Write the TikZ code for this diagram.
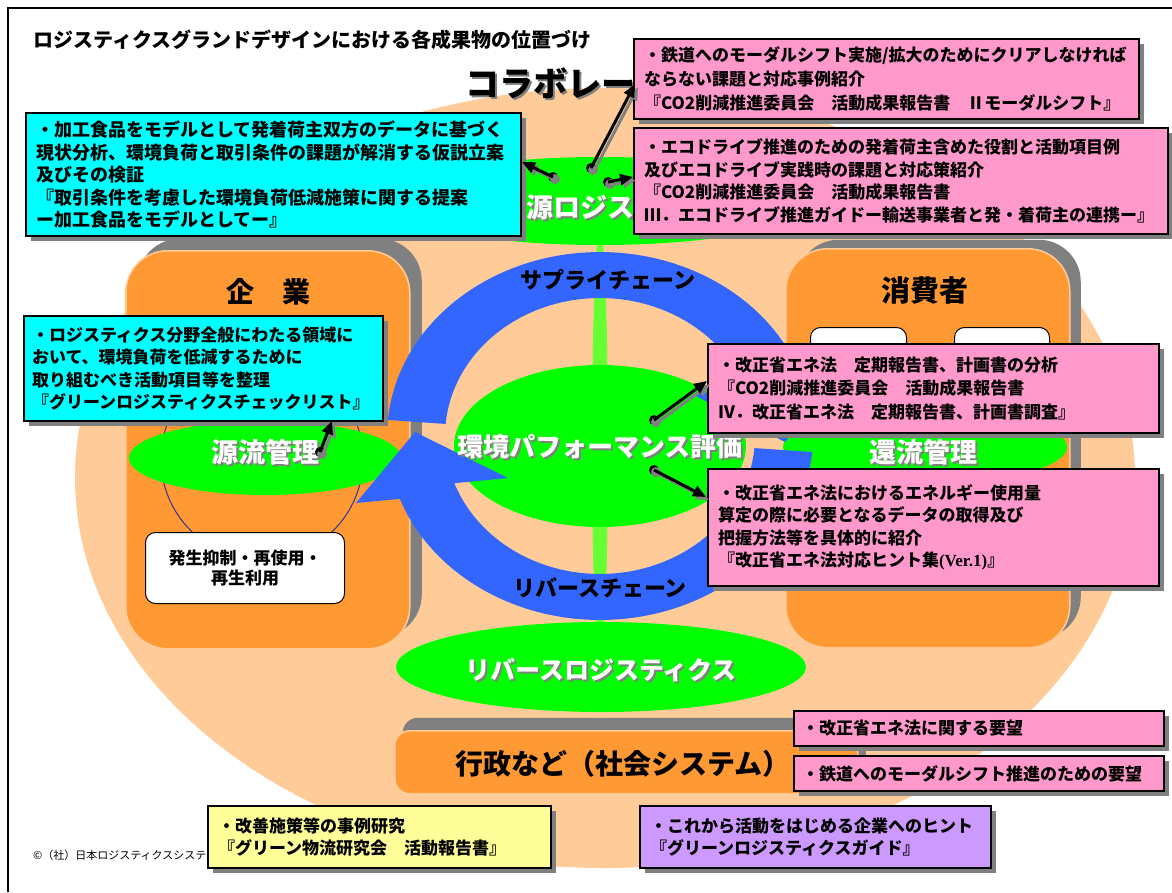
\documentclass[tikz,border=0pt]{standalone}
\usepackage{fontspec}
\setmainfont{Noto Sans CJK JP}
\newfontfamily\serifen{Liberation Serif}
\usetikzlibrary{shadows,arrows.meta,shapes.geometric}
\definecolor{peachc}{HTML}{FFCC99}
\definecolor{orangec}{HTML}{FF9933}
\definecolor{greenc}{HTML}{00FF00}
\definecolor{stemc}{HTML}{66FF33}
\definecolor{bluec}{HTML}{3366FF}
\definecolor{cyanc}{HTML}{00FFFF}
\definecolor{pinkc}{HTML}{FF99CC}
\definecolor{yellowc}{HTML}{FFFF99}
\definecolor{purplec}{HTML}{CC99FF}
\definecolor{shgray}{HTML}{808080}
\definecolor{navyc}{HTML}{333399}
\newcommand\shadowlabel[6]{%
  \node[text=shgray, font=\fontsize{#4}{#4}\selectfont\bfseries] (#1s) at (#2+2,#3+2) {#6};
  \node[text=#5, font=\fontsize{#4}{#4}\selectfont\bfseries] (#1) at (#2,#3) {#6};}
\tikzset{
  calloutbox/.style={draw=black, line width=2pt, anchor=north west, align=left,
    inner xsep=10pt, inner ysep=0pt, font=\fontsize{17}{22.5}\selectfont\bfseries,
    drop shadow={shadow xshift=5pt, shadow yshift=-5pt, opacity=1, fill=shgray}},
  cyanbox/.style={calloutbox, fill=cyanc},
  pinkbox/.style={calloutbox, fill=pinkc},
  yellowbox/.style={calloutbox, fill=yellowc},
  purplebox/.style={calloutbox, fill=purplec},
  orangebox/.style={fill=orangec, draw=peachc, line width=1.5pt, anchor=north west, inner sep=0pt},
  greenell/.style={ellipse, fill=greenc, inner sep=0pt},
  whitebox/.style={fill=white, draw=black, line width=1pt, rounded corners=10pt, anchor=north west, inner sep=0pt},
  dotnode/.style={circle, fill=black, minimum size=10pt, inner sep=0pt},
  callout/.style={line width=3pt, black, -{Triangle[length=13pt,width=11pt]}},
  calloutshadow/.style={line width=3pt, shgray, -{Triangle[length=13pt,width=11pt]}},
  blacklabel/.style={text=black, font=\fontsize{#1}{#1}\selectfont\bfseries},
}
\begin{document}
\begin{tikzpicture}[x=1pt,y=-1pt, every node/.style={inner sep=0pt}]
\useasboundingbox (0,0) rectangle (1172,892);
\fill[white] (0,0) rectangle (1172,892);
% frame and title
\draw[line width=2pt] (8,892) -- (8,8) -- (1172,8);
\node[anchor=west, blacklabel=20] (title) at (33,40) {ロジスティクスグランドデザインにおける各成果物の位置づけ};
% background peach
\fill[peachc] (605,478) ellipse[x radius=530, y radius=390];
% orange boxes
\node[orangebox, rounded corners=42pt, minimum width=284pt, minimum height=398pt,
  drop shadow={shadow xshift=12pt, shadow yshift=12pt, opacity=1, fill=shgray}] (ent) at (125,250) {};
\node[orangebox, rounded corners=42pt, minimum width=284pt, minimum height=399pt,
  drop shadow={shadow xshift=11pt, shadow yshift=9pt, opacity=1, fill=shgray}] (con) at (785,248) {};
\node[orangebox, rounded corners=15pt, minimum width=463pt, minimum height=63pt,
  drop shadow={shadow xshift=8pt, shadow yshift=13pt, opacity=1, fill=shgray}] (gov) at (394,730) {};
% stem
\fill[stemc] (600,445) ellipse[x radius=8, y radius=215];
% small white boxes of consumer
\node[whitebox, minimum width=96pt, minimum height=80pt] (cw1) at (810,327) {};
\node[whitebox, minimum width=95pt, minimum height=80pt] (cw2) at (954,327) {};
% navy circle
\draw[navyc, line width=1pt] (262,459) circle[radius=101];
% green ellipses
\node[greenell, minimum width=430pt, minimum height=88pt] (srcell) at (600,201) {};
\node[greenell, minimum width=292pt, minimum height=162pt] (envell) at (600,446) {};
\node[greenell, minimum width=272pt, minimum height=74pt] (upell) at (265,458) {};
\node[greenell, minimum width=284pt, minimum height=74pt] (retell) at (925,447) {};
\node[greenell, minimum width=410pt, minimum height=90pt] (revell) at (601,667) {};
% blue arcs
\fill[bluec] plot[domain=185:340,samples=60] ({600+213*cos(\x)},{436+184*sin(\x)})
  -- (844,369) -- (785,442) -- (692,394)
  -- plot[domain=340:185,samples=60] ({600+155*cos(\x)},{436+138*sin(\x)}) -- cycle;
\fill[bluec] plot[domain=5:160,samples=60] ({600+213*cos(\x)},{436+184*sin(\x)})
  -- (356,503) -- (415,432) -- (508,478)
  -- plot[domain=160:5,samples=60] ({600+155*cos(\x)},{436+138*sin(\x)}) -- cycle;
% labels
\node[text=shgray, font=\fontsize{34}{34}\selectfont\bfseries, anchor=west] (collabs) at (467,85) {コラボレー};
\node[text=black, font=\fontsize{34}{34}\selectfont\bfseries, anchor=west] (collab) at (465,83) {コラボレー};
\node[text=shgray, font=\fontsize{27}{27}\selectfont\bfseries, anchor=west] (srcs) at (501,209) {資源ロジス};
\node[text=white, font=\fontsize{27}{27}\selectfont\bfseries, anchor=west] (src) at (499,207) {資源ロジス};
\node[blacklabel=22] (supply) at (608,280) {サプライチェーン};
\node[blacklabel=22] (reverse) at (600,588) {リバースチェーン};
\shadowlabel{envtxt}{600}{447}{26}{white}{環境パフォーマンス評価}
\shadowlabel{uptxt}{265}{452}{27}{white}{源流管理}
\shadowlabel{rettxt}{923}{452}{27}{white}{還流管理}
\shadowlabel{revtxt}{601}{670}{25}{white}{リバースロジスティクス}
\node[blacklabel=28] (enttxt) at (268,292) {企　業};
\node[blacklabel=29] (contxt) at (925,291) {消費者};
\node[blacklabel=28] (govtxt) at (623,764) {行政など（社会システム）};
% white box
\node[whitebox, minimum width=199pt, minimum height=71pt, align=center,
  font=\fontsize{17}{20}\selectfont\bfseries] (reuse) at (145,532) {発生抑制・再使用・\\再生利用};
% copyright
\node[anchor=west, font=\fontsize{11}{11}\selectfont] (copy) at (33,855) {©（社）日本ロジスティクスシステ};
% callout boxes
\node[cyanbox, text width=475pt, minimum height=123pt, font=\fontsize{18}{22.5}\selectfont\bfseries] (cy1) at (25,112) {・加工食品をモデルとして発着荷主双方のデータに基づく\\
現状分析、環境負荷と取引条件の課題が解消する仮説立案\\
及びその検証\\
『取引条件を考慮した環境負荷低減施策に関する提案\\
ー加工食品をモデルとしてー』};
\node[pinkbox, text width=485pt, minimum height=80pt, font=\fontsize{17}{24}\selectfont\bfseries] (pk1) at (633,38) {・鉄道へのモーダルシフト実施/拡大のためにクリアしなければ\\
ならない課題と対応事例紹介\\
『CO2削減推進委員会　活動成果報告書　Ⅱモーダルシフト』};
\node[pinkbox, text width=514pt, minimum height=106pt] (pk2) at (633,127) {・エコドライブ推進のための発着荷主含めた役割と活動項目例\\
及びエコドライブ実践時の課題と対応策紹介\\
『CO2削減推進委員会　活動成果報告書\\
Ⅲ．エコドライブ推進ガイドー輸送事業者と発・着荷主の連携ー』};
\node[cyanbox, text width=343pt, inner xsep=8pt, minimum height=105pt] (cy2) at (23,315) {・ロジスティクス分野全般にわたる領域に\\
おいて、環境負荷を低減するために\\
取り組むべき活動項目等を整理\\
『グリーンロジスティクスチェックリスト』};
\node[pinkbox, text width=431pt, minimum height=89pt, font=\fontsize{17}{23.5}\selectfont\bfseries] (pk3) at (707,343) {・改正省エネ法　定期報告書、計画書の分析\\
『CO2削減推進委員会　活動成果報告書\\
Ⅳ．改正省エネ法　定期報告書、計画書調査』};
\node[pinkbox, text width=431pt, minimum height=117pt] (pk4) at (707,468) {・改正省エネ法におけるエネルギー使用量\\
算定の際に必要となるデータの取得及び\\
把握方法等を具体的に紹介\\
『改正省エネ法対応ヒント集{\serifen (Ver.1)}』};
\node[pinkbox, text width=354pt, inner xsep=8pt, minimum height=35pt] (pk5) at (793,710) {・改正省エネ法に関する要望};
\node[pinkbox, text width=354pt, inner xsep=8pt, minimum height=35pt] (pk6) at (793,755) {・鉄道へのモーダルシフト推進のための要望};
\node[yellowbox, text width=323pt, minimum height=62pt, font=\fontsize{17}{22}\selectfont\bfseries] (yl) at (207,805) {・改善施策等の事例研究\\
『グリーン物流研究会　活動報告書』};
\node[purplebox, text width=331pt, minimum height=62pt, font=\fontsize{17}{22}\selectfont\bfseries] (pu) at (639,805) {・これから活動をはじめる企業へのヒント\\
『グリーンロジスティクスガイド』};
% callout connectors
\node[dotnode] (d1) at (553,177) {};
\node[dotnode] (d2) at (591,168) {};
\node[dotnode] (d3) at (608,182) {};
\node[dotnode] (d4) at (320,452) {};
\node[dotnode] (d5) at (654,420) {};
\node[dotnode] (d6) at (654,470) {};
\coordinate (c1) at (522,162);
\coordinate (c2) at (635,84);
\coordinate (c3) at (633,177);
\coordinate (c4) at (332,421);
\coordinate (c5) at (707,381);
\coordinate (c6) at (706,497);
\foreach \d/\c in {d1/c1,d2/c2,d3/c3,d4/c4,d5/c5,d6/c6}{
  \fill[shgray] ([shift={(2,2)}]\d.center) circle[radius=5];
  \draw[calloutshadow] ([shift={(3,3)}]\d.center) -- ([shift={(3,3)}]\c);
}
\foreach \d/\c in {d1/c1,d2/c2,d3/c3,d4/c4,d5/c5,d6/c6}{
  \draw[callout] (\d.center) -- (\c);
}
\end{tikzpicture}
\end{document}
